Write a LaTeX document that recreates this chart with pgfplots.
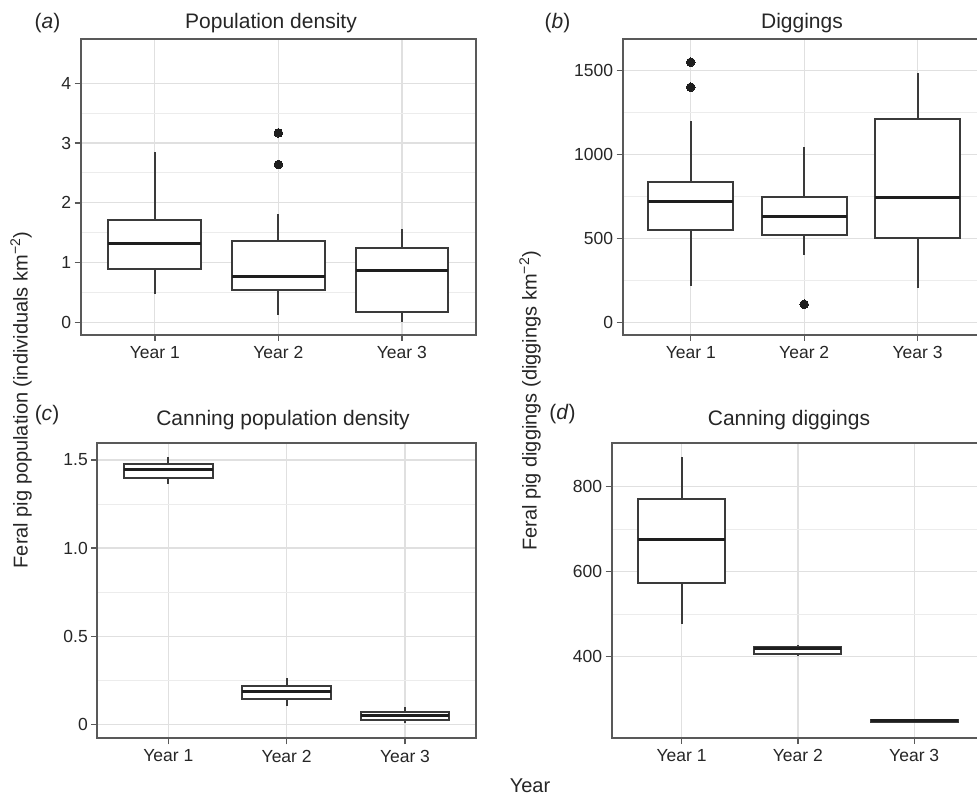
\documentclass[border=0pt]{standalone}
\usepackage{pgfplots}
\pgfplotsset{compat=1.18}
\usepgfplotslibrary{statistics}
\usepackage{fontspec}
\setmainfont{Liberation Sans}
\definecolor{axgray}{HTML}{595959}
\definecolor{boxc}{HTML}{3A3A3A}
\definecolor{medc}{HTML}{1E1E1E}
\definecolor{gridmaj}{HTML}{E0E0E0}
\definecolor{gridmin}{HTML}{ECECEC}
\definecolor{labc}{HTML}{262626}
\newcommand{\tickfont}{\fontsize{17.5}{20}\selectfont}
\newcommand{\titlefont}{\fontsize{21}{24}\selectfont}
\newcommand{\labfont}{\fontsize{20}{23}\selectfont}
\pgfplotsset{
  panel/.style={
    scale only axis,
    xmin=0.4, xmax=3.6,
    xtick={1,2,3}, xticklabels={Year 1,Year 2,Year 3},
    axis line style={draw=axgray, line width=2pt},
    tick style={draw=axgray, line width=1.4pt},
    tick align=outside, major tick length=6pt, minor tick length=0pt,
    xtick pos=bottom, ytick pos=left,
    grid=both,
    major grid style={draw=gridmaj, line width=1.3pt},
    minor grid style={draw=gridmin, line width=1pt},
    minor y tick num=1, minor x tick num=0,
    ticklabel style={font=\tickfont, text=labc},
    xticklabel style={yshift=-2pt},
    clip=false,
  },
  bx/.style={
    boxplot/draw direction=y,
    draw=boxc, line width=2pt,
    mark=*, mark size=4.3pt, mark options={fill=medc, draw=medc, line width=0pt},
    boxplot/box extend=0.75,
    boxplot/whisker extend=0,
    boxplot/every box/.style={draw=boxc, fill=white, line width=2pt},
    boxplot/every whisker/.style={draw=boxc, line width=2pt},
    boxplot/every median/.style={draw=medc, line width=3pt},
  },
}
\begin{document}
\begin{tikzpicture}[x=1pt,y=1pt]
\useasboundingbox (0,0) rectangle (977,797);
\clip (0,0) rectangle (977,797);
% ---------------- (a)
\begin{axis}[panel, at={(80.7pt,462pt)}, anchor=south west,
  width=395.3pt, height=296pt, ymin=-0.21, ymax=4.74,
  ytick={0,1,2,3,4}, yticklabels={0,1,2,3,4}]
\addplot[bx, boxplot prepared={draw position=1, lower whisker=0.47, lower quartile=0.89, median=1.32, upper quartile=1.71, upper whisker=2.85}] coordinates {};
\addplot[bx, boxplot prepared={draw position=2, lower whisker=0.12, lower quartile=0.55, median=0.76, upper quartile=1.37, upper whisker=1.81}] coordinates {(2,3.17) (2,2.64)};
\addplot[bx, boxplot prepared={draw position=3, lower whisker=0.01, lower quartile=0.18, median=0.875, upper quartile=1.24, upper whisker=1.57}] coordinates {};
\end{axis}
% ---------------- (b)
\begin{axis}[panel, at={(622.7pt,462pt)}, anchor=south west,
  width=363pt, height=295.7pt, ymin=-76, ymax=1687,
  ytick={0,500,1000,1500}, yticklabels={0,500,1000,1500}]
\addplot[bx, boxplot prepared={draw position=1, lower whisker=218, lower quartile=550, median=721, upper quartile=838, upper whisker=1202}] coordinates {(1,1550) (1,1401)};
\addplot[bx, boxplot prepared={draw position=2, lower whisker=401, lower quartile=520, median=630, upper quartile=749, upper whisker=1043}] coordinates {(2,107)};
\addplot[bx, boxplot prepared={draw position=3, lower whisker=203, lower quartile=503, median=745, upper quartile=1210, upper whisker=1485}] coordinates {};
\end{axis}
% ---------------- (c)
\begin{axis}[panel, at={(97.3pt,58.7pt)}, anchor=south west,
  width=378.7pt, height=295.6pt, ymin=-0.079, ymax=1.598,
  ytick={0,0.5,1,1.5}, yticklabels={0,0.5,1.0,1.5}]
\addplot[bx, boxplot prepared={draw position=1, lower whisker=1.364, lower quartile=1.40, median=1.447, upper quartile=1.477, upper whisker=1.519}] coordinates {};
\addplot[bx, boxplot prepared={draw position=2, lower whisker=0.104, lower quartile=0.142, median=0.189, upper quartile=0.219, upper whisker=0.261}] coordinates {};
\addplot[bx, boxplot prepared={draw position=3, lower whisker=0.006, lower quartile=0.024, median=0.053, upper quartile=0.072, upper whisker=0.096}] coordinates {};
\end{axis}
% ---------------- (d)
\begin{axis}[panel, at={(611.7pt,59.3pt)}, anchor=south west,
  width=372.3pt, height=295pt, ymin=209.4, ymax=903.5,
  ytick={400,600,800}, yticklabels={400,600,800}]
\addplot[bx, boxplot prepared={draw position=1, lower whisker=476, lower quartile=572.7, median=674.6, upper quartile=770.4, upper whisker=870.6}] coordinates {};
\addplot[bx, boxplot prepared={draw position=2, lower whisker=402.4, lower quartile=407, median=419, upper quartile=422.5, upper whisker=427.5}] coordinates {};
\addplot[bx, boxplot prepared={draw position=3, lower whisker=244, lower quartile=246.5, median=249, upper quartile=251, upper whisker=253.5}] coordinates {};
\end{axis}
% ---------------- titles and labels
\node[anchor=base, text=labc, font=\titlefont] at (47.5,768.7) {(\textit{a})};
\node[anchor=base, text=labc, font=\titlefont] at (271,768.7) {Population density};
\node[anchor=base, text=labc, font=\titlefont] at (557.5,768.7) {(\textit{b})};
\node[anchor=base, text=labc, font=\titlefont] at (802,768.7) {Diggings};
\node[anchor=base, text=labc, font=\titlefont] at (47,376) {(\textit{c})};
\node[anchor=base, text=labc, font=\titlefont] at (283,371) {Canning population density};
\node[anchor=base, text=labc, font=\titlefont] at (562.5,377) {(\textit{d})};
\node[anchor=base, text=labc, font=\titlefont] at (789,371) {Canning diggings};
\node[anchor=base, text=labc, font=\labfont] at (530,4.3) {Year};
\node[rotate=90, text=labc, font=\labfont] at (21,397) {Feral pig population (individuals km\textsuperscript{−2})};
\node[rotate=90, text=labc, font=\labfont] at (530,396) {Feral pig diggings (diggings km\textsuperscript{−2})};
\end{tikzpicture}
\end{document}
